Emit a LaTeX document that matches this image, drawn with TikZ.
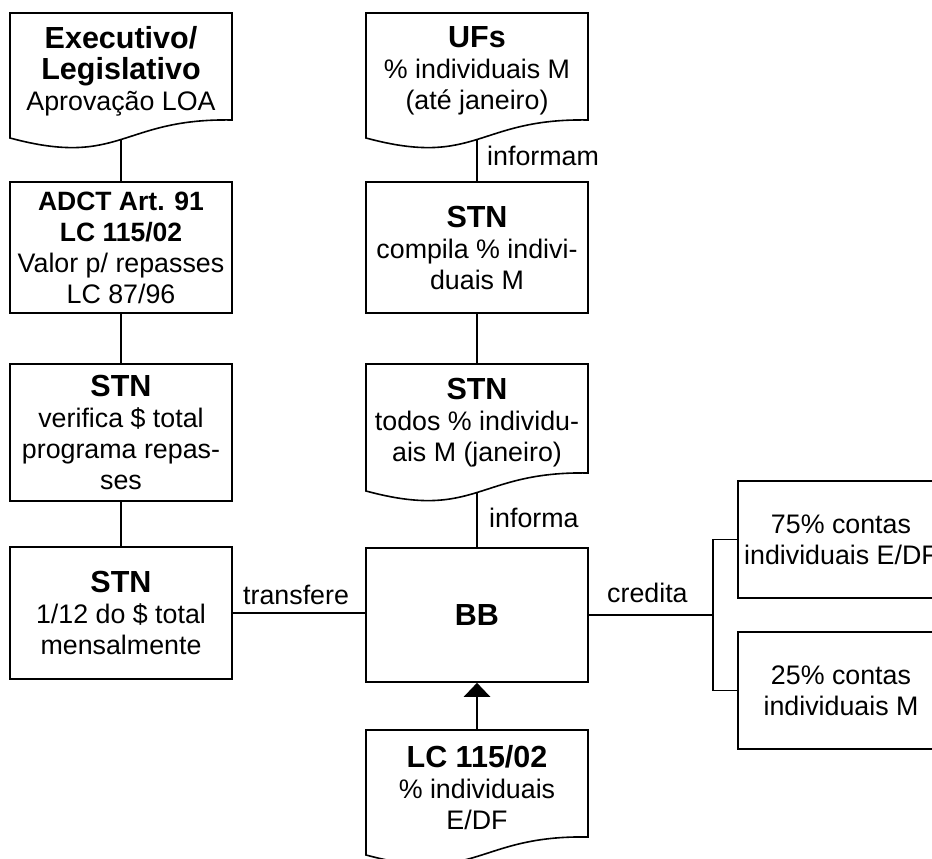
\documentclass[tikz,border=0pt]{standalone}
\usepackage{fontspec}
\setmainfont{Liberation Sans}
\usetikzlibrary{arrows.meta}
\newcommand{\rg}{\fontsize{26.8}{31}\selectfont}
\newcommand{\bt}[1]{{\bfseries\fontsize{30.5}{31}\selectfont #1}}
\newcommand{\bs}[1]{{\bfseries\fontsize{26.5}{31}\selectfont #1}}
\tikzset{
 ln/.style={line width=1.6pt},
 box/.style={draw, ln, minimum width=222pt, inner sep=0pt, align=center, font=\rg},
 txt/.style={inner sep=0pt, align=center, font=\rg},
 lbl/.style={inner sep=0pt, anchor=base west, font=\rg},
}
\newcommand{\docshape}[6]{%
  \draw[ln] (#2,#3) -- (#4,#3) -- (#4,{#5-18}) .. controls ({(#2+#4)/2},{#5-20}) and ({(#2+#4)/2},{#5+30}) .. (#2,#5) -- cycle;
  \node[txt] (#1) at ({(#2+#4)/2},{(#3+#5-9)/2}) {#6};
  \coordinate (#1-t) at ({(#2+#4)/2},#3);
  \coordinate (#1-b) at ({(#2+#4)/2},{#5+1.5});
}
\begin{document}
\begin{tikzpicture}[x=1pt,y=-1pt]
\useasboundingbox (0,0) rectangle (932,859);
% left column
\docshape{exe}{10}{13}{232}{138}{\bt{Executivo/}\\\bt{Legislativo}\\Aprovação LOA}
\node[box, minimum height=131pt] (adct) at (121,247.5) {\bs{ADCT Art. 91}\\\bs{LC 115/02}\\Valor p/ repasses\\LC 87/96};
\node[box, minimum height=137pt] (stn1) at (121,432.5) {\bt{STN}\\verifica \$ total\\programa repas-\\ses};
\node[box, minimum height=132pt] (stn2) at (121,613) {\bt{STN}\\1/12 do \$ total\\mensalmente};
% middle column
\docshape{ufs}{366}{13}{588}{138}{\bt{UFs}\\\% individuais M\\(até janeiro)}
\node[box, minimum height=131pt] (stn3) at (477,247.5) {\bt{STN}\\compila \% indivi-\\duais M};
\docshape{stn4}{366}{364}{588}{491}{\bt{STN}\\todos \% individu-\\ais M (janeiro)}
\node[box, minimum height=134pt] (bb) at (477,615) {\bt{BB}};
\docshape{lc}{366}{730}{588}{855}{\bt{LC 115/02}\\\% individuais\\E/DF}
% right column
\node[box, minimum width=206pt, minimum height=117pt] (c75) at (841,539.5) {75\% contas\\individuais E/DF};
\node[box, minimum width=206pt, minimum height=117pt] (c25) at (841,690.5) {25\% contas\\individuais M};
% connectors
\draw[ln] (exe-b) -- (adct.north);
\draw[ln] (adct.south) -- (stn1.north);
\draw[ln] (stn1.south) -- (stn2.north);
\draw[ln] (ufs-b) -- (stn3.north);
\draw[ln] (stn3.south) -- (stn4-t);
\draw[ln] (stn4-b) -- (bb.north);
\draw[ln] (stn2.east) -- (stn2.east -| bb.west);
\draw[ln, line width=2.6pt, -{Triangle[width=26pt,length=14pt]}] (lc-t) -- (bb.south);
\coordinate (fork) at (713,615);
\draw[ln] (bb.east) -- (fork);
\draw[ln] (c75.west) -| (fork) |- (c25.west);
% labels
\node[lbl] (l1) at (487,165) {informam};
\node[lbl] (l2) at (489,527) {informa};
\node[lbl] (l3) at (243,604) {transfere};
\node[lbl] (l4) at (607,602) {credita};
\end{tikzpicture}
\end{document}
